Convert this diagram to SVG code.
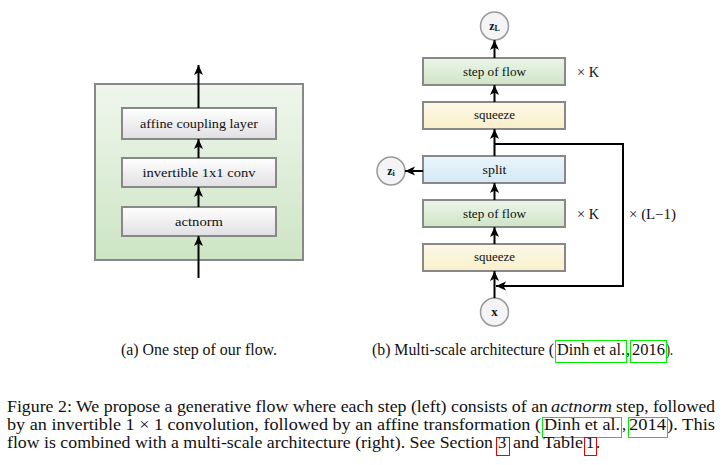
<svg xmlns="http://www.w3.org/2000/svg" width="725" height="465" viewBox="0 0 725 465" font-family="Liberation Serif, Times New Roman, serif">
<defs>
<linearGradient id="gOuter" x1="0" y1="0" x2="0" y2="1"><stop offset="0" stop-color="#eff6ed"/><stop offset="1" stop-color="#cde5c4"/></linearGradient>
<linearGradient id="gGray" x1="0" y1="0" x2="0" y2="1"><stop offset="0" stop-color="#ffffff"/><stop offset="1" stop-color="#e0e0e3"/></linearGradient>
<linearGradient id="gGreen" x1="0" y1="0" x2="0" y2="1"><stop offset="0" stop-color="#ecf5e9"/><stop offset="1" stop-color="#cfe5c6"/></linearGradient>
<linearGradient id="gYellow" x1="0" y1="0" x2="0" y2="1"><stop offset="0" stop-color="#fdf8e8"/><stop offset="1" stop-color="#f8efc9"/></linearGradient>
<linearGradient id="gBlue" x1="0" y1="0" x2="0" y2="1"><stop offset="0" stop-color="#eaf5fb"/><stop offset="1" stop-color="#d3e9f5"/></linearGradient>
<marker id="ah" markerUnits="userSpaceOnUse" markerWidth="10" markerHeight="10" viewBox="0 0 10 10" refX="10" refY="5" orient="auto">
<path d="M0,0.5 L10,5 L0,9.5 L2.5,5 Z" fill="#000"/>
</marker>
<style>
text{font-family:"Liberation Serif","Times New Roman",serif}
.box{stroke:#888;stroke-width:2}
.lbl{fill:#111;text-anchor:middle}
.circ{fill:#f4f4f6;stroke:#999;stroke-width:1.5}
.cap{fill:#111;font-size:16.5px}
.ln{stroke:#000;stroke-width:2;fill:none}
.gl{fill:none;stroke:#00ee00;stroke-width:1}
.rl{fill:none;stroke:#ee0000;stroke-width:1}
</style>
</defs>
<rect width="725" height="465" fill="#fff"/>

<g id="step-container"><rect class="box" x="95" y="84" width="208" height="176" fill="url(#gOuter)"/></g>
<g id="affine"><rect class="box" x="122" y="108" width="154" height="31" fill="url(#gGray)"/><text class="lbl" x="199" y="128" font-size="13.5" textLength="118" lengthAdjust="spacingAndGlyphs">affine coupling layer</text></g>
<g id="invconv"><rect class="box" x="122" y="158" width="154" height="29" fill="url(#gGray)"/><text class="lbl" x="199" y="177" font-size="13.5" textLength="113" lengthAdjust="spacingAndGlyphs">invertible 1x1 conv</text></g>
<g id="actnorm"><rect class="box" x="122" y="207" width="154" height="29" fill="url(#gGray)"/><text class="lbl" x="199" y="226" font-size="13.5" textLength="48" lengthAdjust="spacingAndGlyphs">actnorm</text></g>

<g id="zL"><circle class="circ" cx="494.5" cy="26" r="14"/><text class="lbl" x="494.5" y="30" font-size="12" font-weight="bold">z<tspan font-size="8" dy="1">L</tspan></text></g>
<g id="step2"><rect class="box" x="423" y="58" width="142" height="27" fill="url(#gGreen)"/><text class="lbl" x="494.5" y="75.5" font-size="12.5" textLength="63" lengthAdjust="spacingAndGlyphs">step of flow</text></g>
<g id="squeeze2"><rect class="box" x="423" y="102" width="142" height="27" fill="url(#gYellow)"/><text class="lbl" x="494.5" y="119" font-size="12.5" textLength="41" lengthAdjust="spacingAndGlyphs">squeeze</text></g>
<g id="split"><rect class="box" x="423" y="156" width="142" height="27" fill="url(#gBlue)"/><text class="lbl" x="494.5" y="173.5" font-size="12.5" textLength="24" lengthAdjust="spacingAndGlyphs">split</text></g>
<g id="zi"><circle class="circ" cx="391" cy="171" r="14"/><text class="lbl" x="391" y="174.5" font-size="12" font-weight="bold">z<tspan font-size="8" dy="1">i</tspan></text></g>
<g id="step1"><rect class="box" x="423" y="200" width="142" height="27" fill="url(#gGreen)"/><text class="lbl" x="494.5" y="217.5" font-size="12.5" textLength="63" lengthAdjust="spacingAndGlyphs">step of flow</text></g>
<g id="squeeze1"><rect class="box" x="423" y="244" width="142" height="27" fill="url(#gYellow)"/><text class="lbl" x="494.5" y="261" font-size="12.5" textLength="41" lengthAdjust="spacingAndGlyphs">squeeze</text></g>
<g id="x"><circle class="circ" cx="494.5" cy="312" r="14"/><text class="lbl" x="494.5" y="316" font-size="13" font-weight="bold">x</text></g>
<g id="labels">
<text class="lbl" x="588" y="77" font-size="14" textLength="22" lengthAdjust="spacingAndGlyphs">× K</text>
<text class="lbl" x="588" y="219" font-size="14" textLength="22" lengthAdjust="spacingAndGlyphs">× K</text>
<text class="lbl" x="652.5" y="219" font-size="14" textLength="47" lengthAdjust="spacingAndGlyphs">× (L−1)</text>
</g>

<g id="connectors">
<line class="ln" x1="198.5" y1="108" x2="198.5" y2="65" marker-end="url(#ah)"/>
<line class="ln" x1="198.5" y1="158" x2="198.5" y2="139" marker-end="url(#ah)"/>
<line class="ln" x1="198.5" y1="207" x2="198.5" y2="187" marker-end="url(#ah)"/>
<line class="ln" x1="198.5" y1="278" x2="198.5" y2="236" marker-end="url(#ah)"/>

<line class="ln" x1="494.5" y1="298" x2="494.5" y2="271" marker-end="url(#ah)"/>
<line class="ln" x1="494.5" y1="244" x2="494.5" y2="227" marker-end="url(#ah)"/>
<line class="ln" x1="494.5" y1="200" x2="494.5" y2="183" marker-end="url(#ah)"/>
<line class="ln" x1="494.5" y1="156" x2="494.5" y2="129" marker-end="url(#ah)"/>
<line class="ln" x1="494.5" y1="102" x2="494.5" y2="85" marker-end="url(#ah)"/>
<line class="ln" x1="494.5" y1="58" x2="494.5" y2="40" marker-end="url(#ah)"/>
<line class="ln" x1="423" y1="171" x2="405" y2="171" marker-end="url(#ah)"/>
<path class="ln" d="M494.5,144 H623 V286 H496" marker-end="url(#ah)"/>
</g>

<text class="cap" x="121" y="355" textLength="156" lengthAdjust="spacingAndGlyphs">(a) One step of our flow.</text>
<text class="cap" x="372" y="355" textLength="182" lengthAdjust="spacingAndGlyphs">(b) Multi-scale architecture (</text>
<text class="cap" x="557" y="355" textLength="68" lengthAdjust="spacingAndGlyphs">Dinh et al.</text>
<text class="cap" x="626" y="355">,</text>
<text class="cap" x="632" y="355" textLength="33" lengthAdjust="spacingAndGlyphs">2016</text>
<text class="cap" x="666" y="355" textLength="7" lengthAdjust="spacingAndGlyphs">).</text>
<rect class="gl" x="555.5" y="340.5" width="71" height="22"/>
<rect class="gl" x="630.5" y="340.5" width="36" height="22"/>

<text class="cap" x="7" y="412" textLength="541" lengthAdjust="spacingAndGlyphs">Figure 2: We propose a generative flow where each step (left) consists of an</text>
<text class="cap" x="551" y="412" font-style="italic" textLength="61" lengthAdjust="spacingAndGlyphs">actnorm</text>
<text class="cap" x="616" y="412" textLength="99" lengthAdjust="spacingAndGlyphs">step, followed</text>

<text class="cap" x="7" y="430" textLength="534" lengthAdjust="spacingAndGlyphs">by an invertible 1 × 1 convolution, followed by an affine transformation (</text>
<text class="cap" x="544" y="430" textLength="76" lengthAdjust="spacingAndGlyphs">Dinh et al.</text>
<text class="cap" x="622" y="430">,</text>
<text class="cap" x="629" y="430" textLength="37" lengthAdjust="spacingAndGlyphs">2014</text>
<text class="cap" x="667" y="430" textLength="48" lengthAdjust="spacingAndGlyphs">).  This</text>
<rect class="gl" x="542.5" y="417.5" width="79" height="20"/>
<rect class="gl" x="628.5" y="417.5" width="39" height="20"/>

<text class="cap" x="7" y="448" textLength="486" lengthAdjust="spacingAndGlyphs">flow is combined with a multi-scale architecture (right). See Section</text>
<text class="cap" x="498" y="448">3</text>
<text class="cap" x="513" y="448" textLength="70" lengthAdjust="spacingAndGlyphs">and Table</text>
<text class="cap" x="586" y="448">1</text>
<text class="cap" x="596" y="448">.</text>
<rect class="rl" x="496.5" y="437.5" width="13" height="18"/>
<rect class="rl" x="584.5" y="437.5" width="12" height="18"/>
</svg>
